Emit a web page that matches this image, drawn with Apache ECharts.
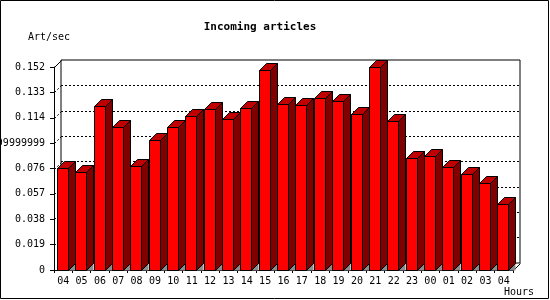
<!DOCTYPE html>
<html>
<head>
<meta charset="utf-8">
<script src="https://cdn.jsdelivr.net/npm/echarts@6/dist/echarts.min.js"></script>
<style>html,body{margin:0;padding:0;background:#fff}#c{width:550px;height:300px}</style>
</head>
<body>
<div id="c"></div>
<script>
const categories = ['04','05','06','07','08','09','10','11','12','13','14','15','16','17','18','19','20','21','22','23','00','01','02','03','04'];
const artPerSec = [0.0766,0.0734,0.1228,0.1071,0.0779,0.0976,0.1071,0.1153,0.1206,0.1131,0.1215,0.1498,0.1243,0.1236,0.1288,0.1265,0.1168,0.1520,0.1116,0.0839,0.0854,0.0769,0.0719,0.0651,0.0494];
const yTickLabels = ['0','0.019','0.038','0.057','0.076','0.09499999999999999','0.114','0.133','0.152'];
const yStep = 0.019;
const yMax = 0.152;

const FONT = 'DejaVu Sans Mono';
const DEPTH = 7;

const chart = echarts.init(document.getElementById('c'), null, {renderer: 'canvas'});

function renderBar(params, api) {
  const i = api.value(0), v = api.value(1);
  const top = api.coord([i, v]);
  const base = api.coord([i, 0]);
  const cw = api.size([1, 0])[0];
  const x0 = Math.round(base[0] - cw / 2 + 2.8) + 0.5;
  const x1 = x0 + 11;
  const yT = Math.round(top[1]) + 0.5;
  const yB = Math.round(base[1]) + 0.5;
  const d = DEPTH;
  const stroke = {stroke: '#000', lineWidth: 1};
  return {
    type: 'group',
    children: [
      {type: 'polygon', shape: {points: [[x1, yB], [x1 + d, yB - d], [x1 + d, yB]]}, style: {fill: '#8c8c8c', stroke: null}},
      {type: 'polygon', shape: {points: [[x1, yT], [x1 + d, yT - d], [x1 + d, yB - d], [x1, yB]]}, style: Object.assign({fill: '#800000'}, stroke)},
      {type: 'polygon', shape: {points: [[x0, yT], [x0 + d, yT - d], [x1 + d, yT - d], [x1, yT]]}, style: Object.assign({fill: '#c00000'}, stroke)},
      {type: 'rect', shape: {x: x0, y: yT, width: x1 - x0, height: yB - yT}, style: Object.assign({fill: '#ff0000'}, stroke)}
    ]
  };
}

function renderGridDiag(params, api) {
  const v = api.value(0);
  const p = api.coord([0, v]);
  const x = params.coordSys.x + 0.5;
  const y = Math.round(p[1]) + 0.5;
  return {type: 'line', shape: {x1: x, y1: y, x2: x + DEPTH, y2: y - DEPTH}, style: {stroke: '#000', lineWidth: 1, lineDash: [2, 2]}};
}

const gridTicks = [];
for (let k = 1; k < yTickLabels.length - 1; k++) gridTicks.push([k * yStep]);

chart.setOption({
  animation: false,
  backgroundColor: '#fff',
  grid: [
    {left: 54, right: 37, top: 67, bottom: 30, containLabel: false, outerBoundsMode: 'none'},
    {left: 61, right: 30, top: 60, bottom: 37, containLabel: false, outerBoundsMode: 'none', show: true, borderColor: '#000', borderWidth: 1, backgroundColor: 'transparent', z: 0}
  ],
  xAxis: [
    {type: 'category', gridIndex: 0, data: categories,
     axisLine: {show: true, lineStyle: {color: '#000', width: 1}},
     axisTick: {show: true, length: 3, lineStyle: {color: '#000'}},
     axisLabel: {color: '#000', fontFamily: FONT, fontSize: 10, margin: 6, interval: 0},
     splitLine: {show: false}},
    {type: 'category', gridIndex: 1, data: categories, show: false}
  ],
  yAxis: [
    {type: 'value', gridIndex: 0, min: 0, max: yMax, interval: yStep,
     axisLine: {show: true, lineStyle: {color: '#000', width: 1}},
     axisTick: {show: true, length: 4, lineStyle: {color: '#000'}},
     axisLabel: {color: '#000', fontFamily: FONT, fontSize: 10, margin: 9,
       formatter: function (val) { return yTickLabels[Math.round(val / yStep)]; }},
     splitLine: {show: false}},
    {type: 'value', gridIndex: 1, min: 0, max: yMax, interval: yStep,
     axisLine: {show: false}, axisTick: {show: false}, axisLabel: {show: false},
     splitLine: {show: true, showMinLine: false, showMaxLine: false, lineStyle: {color: '#000', width: 1, type: [2, 2]}}}
  ],
  series: [
    {type: 'custom', xAxisIndex: 0, yAxisIndex: 0, renderItem: renderGridDiag, data: gridTicks, encode: {y: 0}, z: 1, silent: true},
    {type: 'custom', xAxisIndex: 0, yAxisIndex: 0, renderItem: renderBar,
     data: artPerSec.map(function (v, i) { return [i, v]; }), encode: {x: 0, y: 1}, z: 3}
  ],
  graphic: [
    {type: 'rect', shape: {x: 0.5, y: 0.5, width: 548, height: 298}, style: {fill: null, stroke: '#000', lineWidth: 1}, z: 10},
    {type: 'line', shape: {x1: 54.5, y1: 67.5, x2: 61.5, y2: 60.5}, style: {stroke: '#000', lineWidth: 1}, z: 1},
    {type: 'line', shape: {x1: 513.5, y1: 270.5, x2: 520.5, y2: 263.5}, style: {stroke: '#000', lineWidth: 1}, z: 1},
    {type: 'text', x: 260, y: 27, style: {text: 'Incoming articles', font: 'bold 11px "DejaVu Sans Mono"', fill: '#000', textAlign: 'center', textVerticalAlign: 'middle'}},
    {type: 'text', x: 28, y: 37, style: {text: 'Art/sec', font: '10px "DejaVu Sans Mono"', fill: '#000', textAlign: 'left', textVerticalAlign: 'middle'}},
    {type: 'text', x: 534, y: 292, style: {text: 'Hours', font: '10px "DejaVu Sans Mono"', fill: '#000', textAlign: 'right', textVerticalAlign: 'middle'}}
  ]
});
</script>
</body>
</html>
